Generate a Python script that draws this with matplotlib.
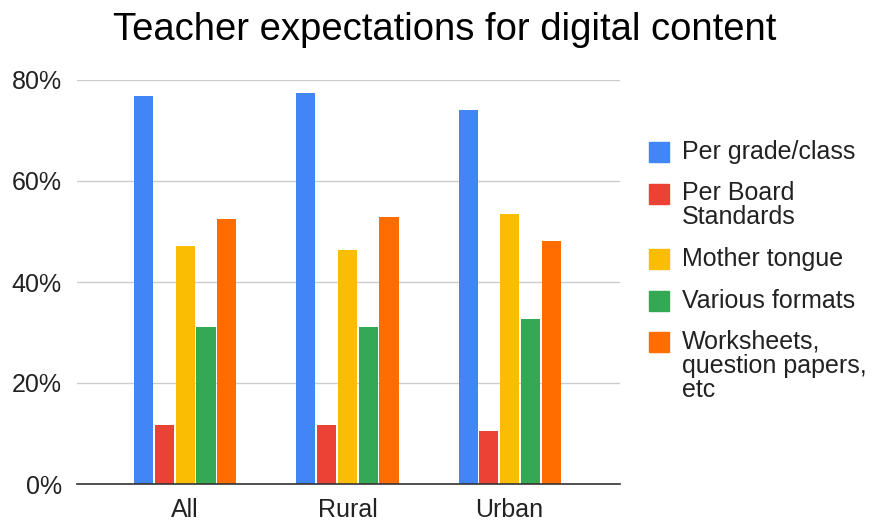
import matplotlib.pyplot as plt
from matplotlib.patches import Rectangle
import numpy as np

plt.rcParams['font.family'] = ['Liberation Sans', 'DejaVu Sans']

groups = ["All", "Rural", "Urban"]
series = ["Per grade/class", "Per Board\nStandards", "Mother tongue",
          "Various formats", "Worksheets,\nquestion papers,\netc"]
per_grade = [76.8, 77.5, 74.0]
per_board = [11.7, 11.7, 10.5]
mother_tongue = [47.2, 46.4, 53.4]
various_formats = [31.0, 31.0, 32.7]
worksheets = [52.5, 52.9, 48.1]
colors = ["#4285F4", "#EA4335", "#FBBC04", "#34A853", "#FF6D01"]

values = [per_grade, per_board, mother_tongue, various_formats, worksheets]

W, H = 873, 521
fig = plt.figure(figsize=(W / 100, H / 100), dpi=100)
ax = fig.add_axes([77 / W, 37 / H, 543 / W, 404 / H])

x = np.arange(len(groups))
pitch = 0.128
width = 0.118
for i, (vals, c) in enumerate(zip(values, colors)):
    ax.bar(x + (i - 2) * pitch, vals, width, color=c, zorder=3)

ax.set_xlim(-0.667, 2.68)
ax.set_ylim(0, 80)
ax.set_yticks([0, 20, 40, 60, 80])
ax.set_yticklabels(["0%", "20%", "40%", "60%", "80%"])
ax.set_xticks(x)
ax.set_xticklabels(groups)
ax.tick_params(axis='both', length=0, labelsize=18, labelcolor="#222222")
ax.tick_params(axis='x', pad=10)
ax.tick_params(axis='y', pad=11)
ax.grid(axis='y', color="#cccccc", linewidth=1, zorder=0)
for s in ["top", "right", "left"]:
    ax.spines[s].set_visible(False)
ax.spines["bottom"].set_color("#333333")
ax.spines["bottom"].set_linewidth(1.2)
ax.spines["bottom"].set_zorder(4)

fig.text(445 / W, 1 - 30 / H, "Teacher expectations for digital content",
         fontsize=27.5, ha="center", va="center", color="#000000")

# legend, drawn by hand so the swatch sits on the first line of each label
y = 152
for label, c in zip(series, colors):
    nlines = label.count("\n") + 1
    fig.add_artist(Rectangle((649 / W, 1 - (y + 10) / H), 20 / W, 20 / H,
                             transform=fig.transFigure, color=c))
    fig.text(682 / W, 1 - (y - 12) / H, label, fontsize=18, ha="left",
             va="top", linespacing=1.0, color="#222222")
    y += nlines * 24 + 17.5

fig.savefig("out.png", dpi=100)
